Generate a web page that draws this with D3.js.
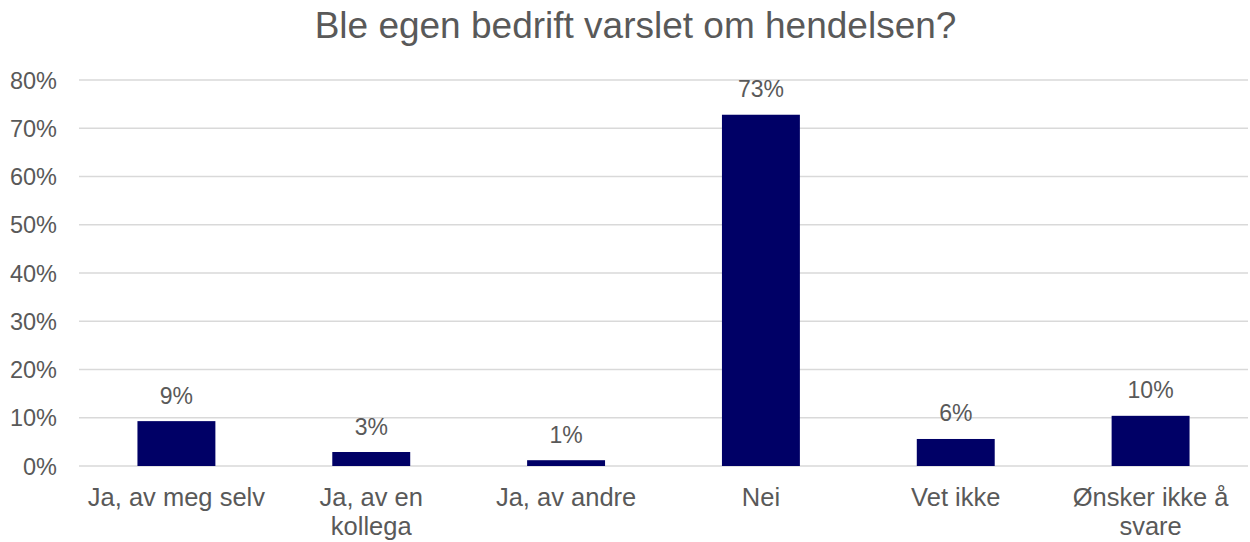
<!DOCTYPE html>
<html>
<head>
<meta charset="utf-8">
<script src="https://cdn.jsdelivr.net/npm/d3@7"></script>
<style>
  html, body { margin: 0; padding: 0; background: #fff; }
  svg { display: block; font-family: "Liberation Sans", Arial, sans-serif; }
</style>
</head>
<body>
<svg id="chart" width="1250" height="542"></svg>
<script>
const title = "Ble egen bedrift varslet om hendelsen?";
const categories = ["Ja, av meg selv", "Ja, av en kollega", "Ja, av andre", "Nei", "Vet ikke", "Ønsker ikke å svare"];
const categoryLines = [["Ja, av meg selv"], ["Ja, av en", "kollega"], ["Ja, av andre"], ["Nei"], ["Vet ikke"], ["Ønsker ikke å", "svare"]];
const values = [9.3, 2.9, 1.2, 72.8, 5.6, 10.4];
const yTicks = [0, 10, 20, 30, 40, 50, 60, 70, 80];

const svg = d3.select("#chart");
const margin = { left: 79, right: 2, top: 80, bottom: 76 };
const W = 1250, H = 542;
const textColor = "#595959";

const x = d3.scaleBand().domain(categories).range([margin.left, W - margin.right]).paddingInner(0.6).paddingOuter(0.3);
const y = d3.scaleLinear().domain([0, 80]).range([H - margin.bottom, margin.top]);

// gridlines
svg.append("g").selectAll("line").data(yTicks).join("line")
  .attr("x1", margin.left).attr("x2", W - margin.right)
  .attr("y1", d => y(d)).attr("y2", d => y(d))
  .attr("stroke", "#d9d9d9").attr("stroke-width", 1.5);

// y axis labels
const yAxis = d3.axisLeft(y).tickValues(yTicks).tickFormat(d => d + "%").tickSize(0).tickPadding(22);
const ga = svg.append("g").attr("transform", `translate(${margin.left},0)`).call(yAxis);
ga.select(".domain").remove();
ga.selectAll("text").attr("fill", textColor).style("font-size", "23.5px").style("font-family", "'Liberation Sans', Arial, sans-serif").attr("dy", "0.34em");

// bars
svg.append("g").selectAll("rect").data(values).join("rect")
  .attr("x", (d, i) => x(categories[i]))
  .attr("width", x.bandwidth())
  .attr("y", d => y(d))
  .attr("height", d => y(0) - y(d))
  .attr("fill", "#000066");

// data labels
svg.append("g").selectAll("text").data(values).join("text")
  .attr("x", (d, i) => x(categories[i]) + x.bandwidth() / 2)
  .attr("y", d => y(d) - 17.5)
  .attr("text-anchor", "middle")
  .attr("fill", textColor)
  .style("font-size", "23px")
  .text(d => Math.round(d) + "%");

// category labels
const cg = svg.append("g").selectAll("text").data(categories).join("text")
  .attr("x", d => x(d) + x.bandwidth() / 2)
  .attr("y", 506)
  .attr("text-anchor", "middle")
  .attr("fill", textColor)
  .style("font-size", "25.5px");
cg.each(function(d, i) {
  const t = d3.select(this);
  categoryLines[i].forEach((ln, j) => {
    t.append("tspan").attr("x", x(d) + x.bandwidth() / 2).attr("dy", j === 0 ? 0 : 28.5).text(ln);
  });
});

// title
svg.append("text")
  .attr("x", 635.5).attr("y", 38)
  .attr("text-anchor", "middle")
  .attr("fill", textColor)
  .style("font-size", "37px")
  .text(title);
</script>
</body>
</html>
